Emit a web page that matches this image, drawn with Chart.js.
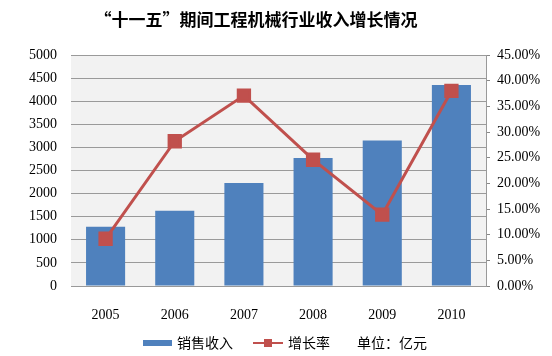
<!DOCTYPE html>
<html><head><meta charset="utf-8">
<script src="https://cdn.jsdelivr.net/npm/chart.js@4"></script>
<style>html,body{margin:0;padding:0;background:#fff;}#wrap{width:552px;height:356px;position:relative;}</style>
</head><body><div id="wrap"><canvas id="c" width="552" height="356"></canvas></div>
<script>
const title = '“十一五”期间工程机械行业收入增长情况';
const years = ['2005','2006','2007','2008','2009','2010'];
const salesRevenue = [1280, 1630, 2230, 2770, 3150, 4350];
const growthRate = [9.2, 28.2, 37.1, 24.6, 13.9, 38.0];
const seriesNames = ['销售收入', '增长率'];
const unitText = '单位：亿元';

const serif = '"Liberation Serif","Times New Roman",serif';
const cjk = '"Noto Sans CJK SC","Noto Sans",sans-serif';

const bgPlugin = {
  id: 'bg',
  beforeDraw(chart) {
    const {ctx, chartArea: a} = chart;
    ctx.save();
    ctx.fillStyle = '#f2f2f2';
    ctx.fillRect(a.left, a.top, a.right - a.left, a.bottom - a.top);
    ctx.restore();
  },
  afterDraw(chart) {
    const ctx = chart.ctx;
    ctx.save();
    ctx.fillStyle = '#000';
    ctx.font = 'bold 17px ' + cjk;
    ctx.textAlign = 'center';
    ctx.textBaseline = 'middle';
    ctx.fillText(title, 256, 20);
    const ly = 343;
    ctx.fillStyle = '#4f81bd';
    ctx.fillRect(143, ly - 3, 29, 6);
    ctx.fillStyle = '#000';
    ctx.font = '14px ' + cjk;
    ctx.textAlign = 'left';
    ctx.fillText(seriesNames[0], 177, ly);
    ctx.strokeStyle = '#c0504d';
    ctx.lineWidth = 2;
    ctx.beginPath(); ctx.moveTo(253, ly); ctx.lineTo(283, ly); ctx.stroke();
    ctx.fillStyle = '#c0504d';
    ctx.fillRect(264, ly - 4, 8, 8);
    ctx.fillStyle = '#000';
    ctx.fillText(seriesNames[1], 288, ly);
    ctx.fillText(unitText, 357, ly);
    ctx.restore();
  }
};

new Chart(document.getElementById('c'), {
  data: {
    labels: years,
    datasets: [
      {
        type: 'line', label: seriesNames[1], data: growthRate, yAxisID: 'y1',
        borderColor: '#c0504d', backgroundColor: '#c0504d', borderWidth: 3,
        pointStyle: 'rect', pointRadius: 8, pointHoverRadius: 8, tension: 0, order: 0
      },
      {
        type: 'bar', label: seriesNames[0], data: salesRevenue, yAxisID: 'y',
        backgroundColor: '#4f81bd', categoryPercentage: 1, barPercentage: 0.565, order: 1
      }
    ]
  },
  options: {
    responsive: false, animation: false,
    devicePixelRatio: 1,
    layout: { padding: { top: 55, left: 0, right: 0, bottom: 0 } },
    plugins: { legend: { display: false }, title: { display: false }, tooltip: { enabled: false } },
    scales: {
      x: {
        grid: { display: false },
        border: { display: true, color: '#999' },
        ticks: { font: { family: serif, size: 14 }, color: '#000', padding: 13 },
        afterFit(s) { s.height = 70; }
      },
      y: {
        position: 'left', min: 0, max: 5000,
        ticks: { stepSize: 500, font: { family: serif, size: 14 }, color: '#000', padding: 14,
          callback: v => String(v) },
        grid: { color: '#9a9a9a', drawTicks: false },
        border: { display: false },
        afterFit(s) { s.width = 71; }
      },
      y1: {
        position: 'right', min: 0, max: 45,
        ticks: { stepSize: 5, font: { family: serif, size: 14 }, color: '#000', padding: 7,
          callback: v => v.toFixed(2) + '%' },
        grid: { drawOnChartArea: false, drawTicks: true, tickLength: 4, color: '#888' },
        border: { display: true, color: '#999' },
        afterFit(s) { s.width = 66; }
      }
    }
  },
  plugins: [bgPlugin]
});
</script></body></html>
